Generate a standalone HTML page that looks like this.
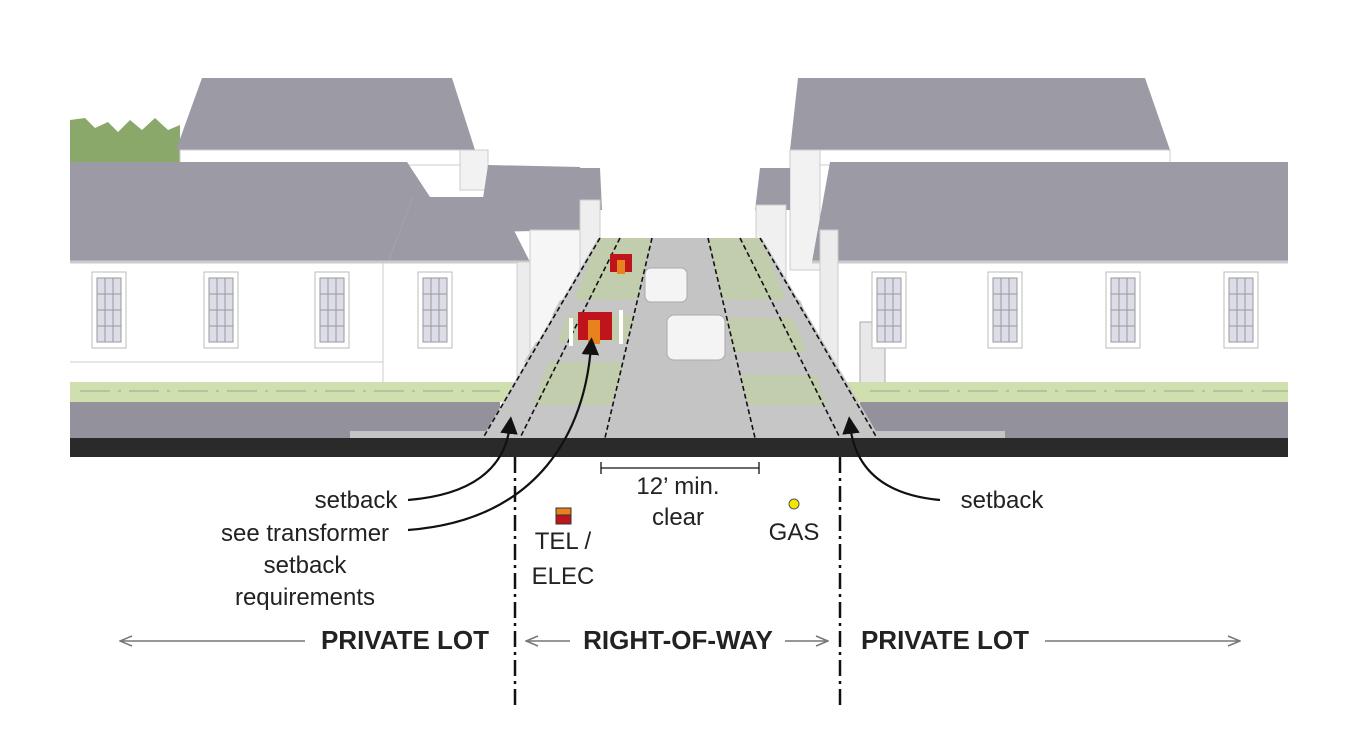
<!DOCTYPE html>
<html><head><style>
body{margin:0;background:#fff;}
svg{display:block;font-family:"Liberation Sans",sans-serif;}
</style></head><body>
<svg width="1345" height="746" viewBox="0 0 1345 746" xmlns="http://www.w3.org/2000/svg">
<defs>
<marker id="ah" markerWidth="8" markerHeight="8" refX="4" refY="4" orient="auto"><path d="M0,0 L8,4 L0,8 z" fill="#111"/></marker>
<marker id="ga" markerWidth="14" markerHeight="12" refX="13" refY="6" orient="auto" markerUnits="userSpaceOnUse"><path d="M1,1 L13,6 L1,11" fill="none" stroke="#777" stroke-width="1.5"/></marker>
<g id="win"><rect x="0" y="0" width="34" height="76" fill="#fff" stroke="#bbb"/><rect x="5" y="6" width="24" height="64" fill="#dcdde8" stroke="#999"/><path d="M13,6V70M21,6V70M5,22H29M5,38H29M5,54H29" stroke="#999" stroke-width="1"/></g>
</defs>
<!-- trees -->
<path d="M70,162 L70,120 L85,118 L95,128 L108,122 L118,132 L130,120 L142,130 L155,118 L168,130 L180,125 L180,162 Z" fill="#8aa86a"/>
<!-- back houses left -->
<polygon points="202,78 452,78 475,150 176,150" fill="#9b9aa5"/>
<rect x="180" y="150" width="300" height="15" fill="#fff" stroke="#ccc"/>
<rect x="460" y="150" width="28" height="40" fill="#f2f2f2" stroke="#ccc"/>
<polygon points="488,165 580,167 590,230 478,232" fill="#9b9aa5"/>
<rect x="530" y="230" width="60" height="140" fill="#f6f6f6" stroke="#ccc"/>
<polygon points="575,168 600,168 602,210 580,210" fill="#9b9aa5"/>
<rect x="580" y="200" width="20" height="80" fill="#eee" stroke="#ccc"/>
<!-- front house left -->
<polygon points="70,162 407,162 430,197 413,197 388,262 70,262" fill="#9b9aa5"/>
<polygon points="413,197 497,197 530,262 388,262" fill="#9b9aa5"/>
<rect x="70" y="262" width="460" height="120" fill="#fff"/>
<line x1="70" y1="262" x2="530" y2="262" stroke="#ccc" stroke-width="3"/>
<line x1="383" y1="262" x2="383" y2="382" stroke="#ccc"/>
<line x1="70" y1="362" x2="383" y2="362" stroke="#ccc"/>
<rect x="517" y="262" width="13" height="120" fill="#ececec" stroke="#ccc"/>
<use href="#win" x="92" y="272"/><use href="#win" x="204" y="272"/><use href="#win" x="315" y="272"/><use href="#win" x="418" y="272"/>
<!-- back houses right -->
<polygon points="798,78 1145,78 1170,150 790,150" fill="#9b9aa5"/>
<rect x="790" y="150" width="380" height="15" fill="#fff" stroke="#ccc"/>
<rect x="790" y="150" width="30" height="120" fill="#f2f2f2" stroke="#ccc"/>
<polygon points="760,168 790,168 790,210 755,210" fill="#9b9aa5"/>
<rect x="756" y="205" width="30" height="80" fill="#f0f0f0" stroke="#ccc"/>
<!-- front house right -->
<polygon points="830,162 1288,162 1288,262 812,262" fill="#9b9aa5"/>
<rect x="835" y="262" width="453" height="120" fill="#fff"/>
<line x1="812" y1="262" x2="1288" y2="262" stroke="#ccc" stroke-width="3"/>
<rect x="820" y="230" width="18" height="150" fill="#ececec" stroke="#ccc"/>
<rect x="860" y="322" width="25" height="70" fill="#e8e8e8" stroke="#aaa"/>
<use href="#win" x="872" y="272"/><use href="#win" x="988" y="272"/><use href="#win" x="1106" y="272"/><use href="#win" x="1224" y="272"/>
<!-- ground strips -->
<rect x="70" y="382" width="450" height="20" fill="#cfdfae"/>
<rect x="840" y="382" width="448" height="20" fill="#cfdfae"/>
<rect x="70" y="402" width="430" height="36" fill="#92919c"/>
<rect x="860" y="402" width="428" height="36" fill="#92919c"/>
<rect x="350" y="431" width="150" height="7" fill="#c4c4c4"/>
<rect x="860" y="431" width="145" height="7" fill="#c4c4c4"/>
<line x1="80" y1="391" x2="500" y2="391" stroke="#9aa88a" stroke-dasharray="30,8,3,8"/>
<line x1="870" y1="391" x2="1288" y2="391" stroke="#9aa88a" stroke-dasharray="30,8,3,8"/>
<!-- street corridor -->
<polygon points="598,238 762,238 880,438 482,438" fill="#c6c6c6"/>
<polygon points="598,238 652,238 605,438 520,438" fill="#bfd49a" opacity="0.55"/>
<polygon points="708,238 762,238 840,438 755,438" fill="#bfd49a" opacity="0.55"/>
<polygon points="652,238 708,238 755,438 605,438" fill="#c4c4c4"/>
<polygon points="560,300 640,300 636,315 552,315" fill="#c6c6c6"/>
<polygon points="536,342 630,342 624,362 524,362" fill="#c6c6c6"/>
<polygon points="505,405 612,405 608,438 485,438" fill="#c6c6c6"/>
<polygon points="720,300 800,300 808,318 724,318" fill="#c6c6c6"/>
<polygon points="730,352 822,352 836,375 735,375" fill="#c6c6c6"/>
<polygon points="745,405 855,405 878,438 752,438" fill="#c6c6c6"/>
<g stroke="#111" stroke-width="1.6" stroke-dasharray="5,3" fill="none">
<line x1="600" y1="238" x2="483" y2="438"/><line x1="620" y1="238" x2="520" y2="438"/>
<line x1="652" y1="238" x2="605" y2="438"/><line x1="708" y1="238" x2="755" y2="438"/>
<line x1="740" y1="238" x2="840" y2="438"/><line x1="760" y1="238" x2="877" y2="438"/>
</g>
<!-- cars -->
<rect x="645" y="268" width="42" height="34" rx="6" fill="#f4f4f4" stroke="#aaa"/>
<rect x="667" y="315" width="58" height="45" rx="7" fill="#f4f4f4" stroke="#aaa"/>
<!-- transformers -->
<rect x="610" y="254" width="22" height="18" fill="#c0141c"/><rect x="617" y="260" width="8" height="14" fill="#e8821e"/>
<rect x="578" y="312" width="34" height="28" fill="#c0141c"/><rect x="588" y="320" width="12" height="24" fill="#e8821e"/>
<rect x="569" y="318" width="4" height="28" fill="#fff"/><rect x="619" y="310" width="4" height="34" fill="#fff"/>
<!-- black band -->
<rect x="70" y="438" width="1218" height="19" fill="#2a2a2a"/>
<g stroke="#111" stroke-width="2.5" stroke-dasharray="16,5,3,5">
<line x1="515" y1="457" x2="515" y2="705"/><line x1="840" y1="457" x2="840" y2="705"/>
</g>
<g stroke="#111" stroke-width="1.3"><line x1="601" y1="468" x2="759" y2="468"/><line x1="601" y1="462" x2="601" y2="474"/><line x1="759" y1="462" x2="759" y2="474"/></g>
<g stroke="#111" stroke-width="2.2" fill="none">
<path d="M408,500 C470,495 505,470 510,425" marker-end="url(#ah)"/>
<path d="M408,530 C540,520 585,430 591,346" marker-end="url(#ah)"/>
<path d="M940,500 C885,495 855,470 850,425" marker-end="url(#ah)"/>
</g>
<rect x="556" y="508" width="15" height="16" fill="#c0141c" stroke="#333"/><rect x="556" y="508" width="15" height="7" fill="#e8821e" stroke="#333"/>
<circle cx="794" cy="504" r="5" fill="#f4e800" stroke="#555"/>
<g font-size="24" fill="#222" text-anchor="middle">
<text x="356" y="508">setback</text>
<text x="305" y="541">see transformer</text>
<text x="305" y="573">setback</text>
<text x="305" y="605">requirements</text>
<text x="1002" y="508">setback</text>
<text x="678" y="494">12’ min.</text>
<text x="678" y="525">clear</text>
<text x="794" y="540">GAS</text>
<text x="563" y="549">TEL /</text>
<text x="563" y="584">ELEC</text>
</g>
<g font-size="26" font-weight="bold" fill="#222" text-anchor="middle">
<text x="405" y="649">PRIVATE LOT</text>
<text x="678" y="649">RIGHT-OF-WAY</text>
<text x="945" y="649">PRIVATE LOT</text>
</g>
<g stroke="#777" stroke-width="1.6" fill="none">
<line x1="305" y1="641" x2="120" y2="641" marker-end="url(#ga)"/>
<line x1="570" y1="641" x2="526" y2="641" marker-end="url(#ga)"/>
<line x1="785" y1="641" x2="828" y2="641" marker-end="url(#ga)"/>
<line x1="1045" y1="641" x2="1240" y2="641" marker-end="url(#ga)"/>
</g>
</svg>
</body></html>
